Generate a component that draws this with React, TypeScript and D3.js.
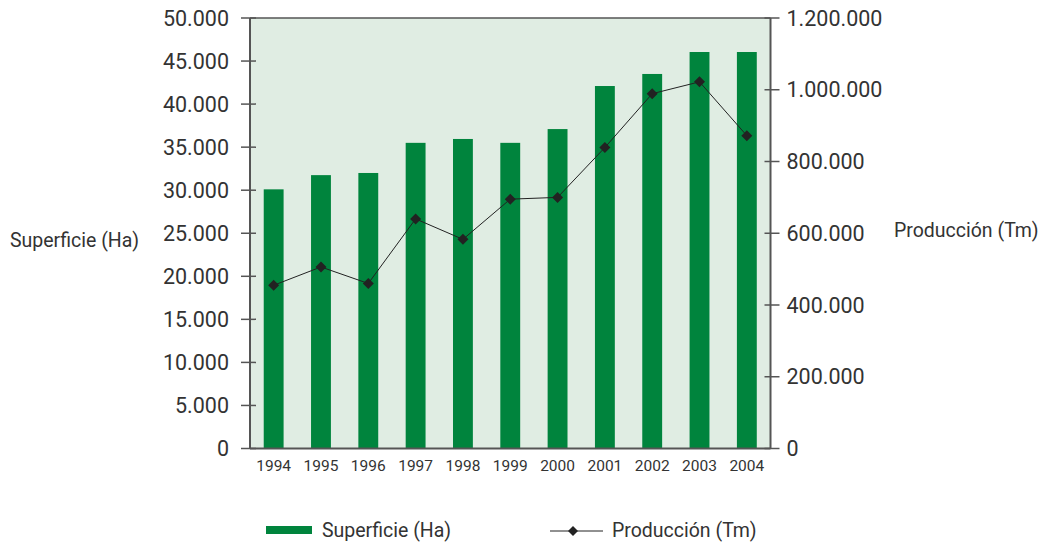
import React from "react";
import * as d3 from "d3";

const years = ["1994","1995","1996","1997","1998","1999","2000","2001","2002","2003","2004"];
const superficie = [30100, 31750, 32000, 35500, 35950, 35500, 37100, 42100, 43500, 46050, 46050];
const produccion = [455000, 506000, 460000, 640000, 583000, 695000, 700000, 839000, 989000, 1022000, 872000];
const leftTicks = [0, 5000, 10000, 15000, 20000, 25000, 30000, 35000, 40000, 45000, 50000];
const rightTicks = [0, 200000, 400000, 600000, 800000, 1000000, 1200000];
const leftTitle = "Superficie (Ha)";
const rightTitle = "Producción (Tm)";

const fmt = (v: number) => (v === 0 ? "0" : d3.format(",")(v).replace(/,/g, "."));

export default function App() {
  const W = 1042, H = 542;
  const L = 250, R = 770.5, T = 18, B = 448.5;
  const x = d3.scaleBand().domain(years).range([L, R]).paddingInner(0.58).paddingOuter(0.29);
  const yL = d3.scaleLinear().domain([0, 50000]).range([B, T]);
  const yR = d3.scaleLinear().domain([0, 1200000]).range([B, T]);
  const line = d3.line<number>().x((_, i) => x(years[i])! + x.bandwidth() / 2).y(d => yR(d));
  const font = "Roboto, 'Liberation Sans', Arial, sans-serif";
  const txt = "#333";
  const axis = "#555";
  const diamond = (cx: number, cy: number, r: number) => `M${cx},${cy - r}L${cx + r},${cy}L${cx},${cy + r}L${cx - r},${cy}Z`;
  return (
    <svg width={W} height={H} style={{ position: "absolute", left: 0, top: 0, background: "#fff" }} fontFamily={font}>
      <rect x={L} y={T} width={R - L} height={B - T} fill="#e0ede3" />
      {years.map((yr, i) => (
        <rect key={yr} x={x(yr)} y={yL(superficie[i])} width={x.bandwidth()} height={B - yL(superficie[i])} fill="#00843d" />
      ))}
      <path d={line(produccion) || ""} fill="none" stroke="#222" strokeWidth={1} />
      {produccion.map((v, i) => (
        <path key={i} d={diamond(x(years[i])! + x.bandwidth() / 2, yR(v), 5.5)} fill="#222" />
      ))}
      <line x1={L} y1={T} x2={R} y2={T} stroke={axis} strokeWidth={1.5} />
      <line x1={L} y1={T} x2={L} y2={B} stroke={axis} strokeWidth={2} />
      <line x1={R} y1={T} x2={R} y2={B} stroke={axis} strokeWidth={2} />
      <line x1={L} y1={B} x2={R} y2={B} stroke={axis} strokeWidth={2} />
      {leftTicks.map(t => (
        <g key={t}>
          <line x1={L - 9} x2={L + 6} y1={yL(t)} y2={yL(t)} stroke={axis} strokeWidth={1.5} />
          <text x={L - 21} y={yL(t)} dy="0.36em" textAnchor="end" fontSize={21.5} fill={txt}>{fmt(t)}</text>
        </g>
      ))}
      {rightTicks.map(t => (
        <g key={t}>
          <line x1={R - 6} x2={R + 9} y1={yR(t)} y2={yR(t)} stroke={axis} strokeWidth={1.5} />
          <text x={R + 16} y={yR(t)} dy="0.36em" textAnchor="start" fontSize={21.5} fill={txt}>{fmt(t)}</text>
        </g>
      ))}
      {years.map(yr => (
        <text key={yr} x={x(yr)! + x.bandwidth() / 2} y={471} textAnchor="middle" fontSize={15.5} fill={txt}>{yr}</text>
      ))}
      <text x={10} y={240} dy="0.36em" fontSize={19.5} fill={txt}>{leftTitle}</text>
      <text x={894} y={230} dy="0.36em" fontSize={19.5} fill={txt}>{rightTitle}</text>
      <rect x={266} y={526} width={46} height={8} fill="#00843d" />
      <text x={322} y={530} dy="0.36em" fontSize={19.5} fill={txt}>{leftTitle}</text>
      <line x1={550} x2={603} y1={531} y2={531} stroke="#222" strokeWidth={1} />
      <path d={diamond(573, 531, 5)} fill="#222" />
      <text x={612} y={530} dy="0.36em" fontSize={19.5} fill={txt}>{rightTitle}</text>
    </svg>
  );
}
